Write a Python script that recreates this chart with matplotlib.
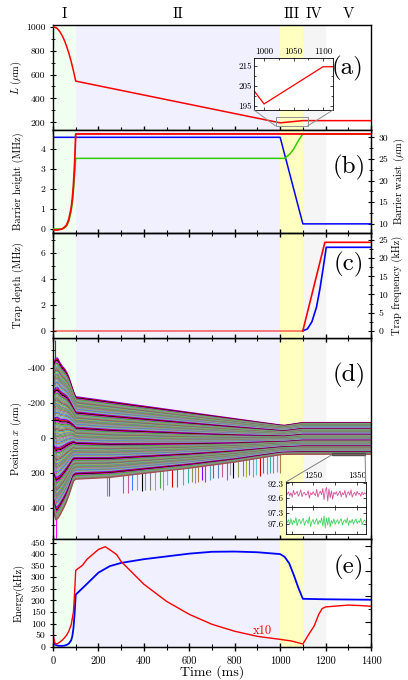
import matplotlib
matplotlib.use('Agg')
import matplotlib.pyplot as plt
import numpy as np
from matplotlib.patches import Rectangle, ConnectionPatch
from matplotlib.ticker import MultipleLocator

plt.rcParams['font.family'] = ['cmr10', 'DejaVu Serif']
plt.rcParams['mathtext.fontset'] = 'cm'
plt.rcParams['axes.unicode_minus'] = False
plt.rcParams['axes.formatter.use_mathtext'] = False

# ---- phases ----
phase_edges = [0, 100, 1000, 1100, 1200, 1400]
phase_names = ['I', 'II', 'III', 'IV', 'V']
phase_mid = [50, 550, 1050, 1150, 1300]
phase_colors = ['#f0fff0', '#f0f0ff', '#ffffc0', '#f5f5f5', '#ffffff']

# ---- (a) length ----
a_t = [0, 10, 20, 30, 40, 50, 60, 70, 80, 90, 100, 1000, 1100, 1400]
a_L = [1000, 995, 982, 959, 927, 886, 836, 777, 709, 631, 545, 196, 214.5, 214.5]

# ---- (b) barrier ----
b_red_t = [0, 20, 40, 50, 60, 70, 80, 85, 90, 95, 100, 1400]
b_red = [-0.05, -0.05, 0.0, 0.08, 0.2, 0.5, 1.05, 1.5, 2.2, 3.2, 4.75, 4.75]
b_green_t = [0, 40, 50, 60, 70, 80, 85, 90, 95, 100, 1020, 1043, 1060, 1072, 1085, 1100, 1400]
b_green = [0, 0, 0.05, 0.15, 0.4, 0.9, 1.3, 1.9, 2.7, 3.53, 3.53, 3.75, 4.0, 4.25, 4.5, 4.75, 4.75]
b_waist_t = [0, 1000, 1100, 1400]
b_waist = [30, 30, 10, 10]

# ---- (c) trap ----
c_depth_t = [0, 1100, 1197, 1400]
c_depth = [0, 0, 6.85, 6.85]
c_freq_t = [1100, 1120, 1140, 1160, 1175, 1190, 1203, 1400]
c_freq = [0, 0.5, 2.5, 6.5, 11.5, 17.5, 23.0, 23.0]

# ---- (d) ion positions: band edges at key times ----
d_t = [0, 5, 12, 20, 30, 40, 50, 60, 70, 80, 90, 100, 250, 400, 600, 800, 1000, 1020, 1100, 1400]
d_top = [-420, -430, -455, -455, -430, -410, -395, -375, -345, -305, -265, -234,
         -207, -180, -144, -108, -72, -70, -86, -86]
d_bot = [400, 430, 470, 465, 445, 420, 395, 365, 330, 290, 250, 238,
         228, 205, 175, 140, 98, 96, 95, 95]
n_ions = 120
ion_colors = ['#7f00ff', '#d00000', '#000000', '#ff00ff', '#2ca02c', '#8fa05a',
              '#5fa0c0', '#9a9a50', '#808080', '#a05050', '#40b0a0', '#b0b040',
              '#6080c0', '#909060', '#50a050', '#c06090', '#70a8a0', '#a0a070',
              '#4080ff', '#b08040', '#60c0d0', '#a0a0a0']
spike_t = [10, 13, 236, 245, 310, 332, 346, 368, 390, 405, 427, 449, 471, 486, 500,
           523, 544, 573, 595, 610, 625, 640, 654, 669, 691, 705, 728, 742, 764,
           779, 794, 816, 835, 850, 865, 880, 895, 910, 925, 940, 955, 970, 985, 998]
spike_tip = [-558, 573, 337, 337, 318, 318, 299, 299, 308, 299, 299, 299, 290, 299, 270,
             280, 280, 270, 261, 252, 261, 252, 242, 252, 242, 232, 232, 223, 242,
             213, 232, 223, 220, 228, 215, 225, 212, 220, 205, 210, 200, 205, 195, 200]

# zoom insets of two ions (1190-1370 ms)
ins_t = np.linspace(1190, 1370, 65)
ion_pink = [92.52, 92.47, 92.55, 92.49, 92.58, 92.44, 92.53, 92.50, 92.46, 92.56, 92.51,
            92.43, 92.57, 92.50, 92.48, 92.54, 92.52, 92.45, 92.60, 92.49, 92.53, 92.47,
            92.51, 92.55, 92.42, 92.58, 92.50, 92.46, 92.53, 92.40, 92.63, 92.44, 92.38,
            92.66, 92.41, 92.59, 92.45, 92.62, 92.48, 92.52, 92.47, 92.55, 92.50, 92.45,
            92.57, 92.49, 92.53, 92.44, 92.59, 92.50, 92.47, 92.54, 92.43, 92.58, 92.51,
            92.48, 92.55, 92.46, 92.52, 92.50, 92.56, 92.47, 92.53, 92.49, 92.51]
ion_green = [97.55, 97.48, 97.60, 97.45, 97.62, 97.50, 97.57, 97.42, 97.64, 97.52, 97.47,
             97.59, 97.51, 97.44, 97.63, 97.53, 97.49, 97.58, 97.40, 97.66, 97.54, 97.47,
             97.60, 97.52, 97.45, 97.61, 97.50, 97.56, 97.43, 97.65, 97.38, 97.70, 97.44,
             97.62, 97.41, 97.67, 97.50, 97.58, 97.46, 97.60, 97.53, 97.48, 97.59, 97.51,
             97.45, 97.62, 97.52, 97.48, 97.57, 97.43, 97.63, 97.50, 97.56, 97.47, 97.60,
             97.52, 97.46, 97.58, 97.51, 97.55, 97.44, 97.61, 97.53, 97.49, 97.55]

# ---- (e) energy ----
e_blue_t = [0, 10, 20, 30, 40, 50, 60, 70, 80, 85, 90, 95, 100, 150, 200, 250, 300, 400,
            500, 600, 700, 800, 900, 1000, 1020, 1040, 1060, 1080, 1100, 1200, 1400]
e_blue = [20, 9, 5, 4, 4, 5, 8, 14, 28, 45, 80, 140, 225, 272, 320, 348, 362, 378,
          390, 402, 410, 411, 408, 400, 388, 360, 310, 255, 207, 205, 203]
e_red_t = [0, 5, 10, 20, 30, 40, 50, 60, 70, 80, 90, 95, 100, 130, 150, 200, 230, 260,
           280, 300, 400, 500, 600, 700, 800, 900, 1000, 1050, 1100, 1130, 1150, 1170,
           1185, 1200, 1250, 1300, 1350, 1400]
e_red = [55, 30, 12, 14, 20, 28, 38, 50, 68, 95, 150, 230, 330, 352, 378, 420, 432, 412,
         398, 368, 270, 196, 140, 97, 67, 45, 32, 25, 12, 60, 90, 140, 165, 172, 176,
         180, 178, 175]


def shade(ax):
    for i in range(len(phase_names)):
        ax.axvspan(phase_edges[i], phase_edges[i + 1], color=phase_colors[i], lw=0, zorder=0)


def style(ax, last=False):
    ax.set_xlim(0, 1400)
    ax.xaxis.set_major_locator(MultipleLocator(200))
    ax.xaxis.set_minor_locator(MultipleLocator(100))
    ax.tick_params(axis='x', which='major', direction='inout', length=6, width=1,
                   top=False, labelbottom=last, labelsize=7.5)
    ax.tick_params(axis='x', which='minor', direction='inout', length=4, width=0.8, top=False)
    ax.tick_params(axis='y', which='major', direction='inout', length=4, width=0.8,
                   labelsize=7, right=False)
    ax.tick_params(axis='y', which='minor', direction='inout', length=2.5, width=0.6, right=False)
    for s in ax.spines.values():
        s.set_linewidth(1.0)
    ax.yaxis.set_label_coords(-0.09, 0.5)


def right_axis(ax):
    # twin axis carries the background so that both sets of lines show
    ax2 = ax.twinx()
    ax2.set_zorder(0)
    ax.set_zorder(1)
    ax.patch.set_visible(False)
    ax2.patch.set_visible(True)
    shade(ax2)
    ax2.set_xlim(0, 1400)
    ax2.tick_params(axis='y', which='major', direction='inout', length=4, width=0.8, labelsize=7)
    ax2.tick_params(axis='y', which='minor', direction='inout', length=2.5, width=0.6)
    ax2.yaxis.set_label_coords(1.066, 0.5)
    return ax2


fig = plt.figure(figsize=(4.08, 6.8), dpi=100)
L, W = 0.1299, 0.7794
ax_a = fig.add_axes([L, 0.8088, W, 0.1544])
ax_b = fig.add_axes([L, 0.6574, W, 0.1515])
ax_c = fig.add_axes([L, 0.5029, W, 0.1544])
ax_d = fig.add_axes([L, 0.2074, W, 0.2956])
ax_e = fig.add_axes([L, 0.0485, W, 0.1588])

for ax in [ax_a, ax_b, ax_c, ax_d, ax_e]:
    style(ax, ax is ax_e)
for ax in [ax_a, ax_d, ax_e]:
    shade(ax)

for i, name in enumerate(phase_names):
    ax_a.text(phase_mid[i], 1.105, name, transform=ax_a.get_xaxis_transform(),
              ha='center', va='center', fontsize=11)

# (a)
ax_a.plot(a_t, a_L, color='red', lw=1.1, zorder=3)
ax_a.set_ylim(136, 1014)
ax_a.yaxis.set_major_locator(MultipleLocator(200))
ax_a.yaxis.set_minor_locator(MultipleLocator(100))
ax_a.set_ylabel(r'$L$ ($\mu$m)', fontsize=7.5)
ax_a.text(0.925, 0.59, '(a)', transform=ax_a.transAxes, fontsize=18, ha='center', va='center')
ax_a.add_patch(Rectangle((980, 170), 141, 77, fill=False, ec='#909090', lw=0.7, zorder=4))

ins_a = fig.add_axes([254 / 408, 1 - 110 / 680, 79 / 408, 52.3 / 680])
ins_a.plot(a_t, a_L, color='red', lw=0.9)
ins_a.set_xlim(983, 1117)
ins_a.set_ylim(193, 219)
ins_a.set_xticks([1000, 1050, 1100])
ins_a.set_yticks([195, 205, 215])
ins_a.xaxis.set_minor_locator(MultipleLocator(25))
ins_a.yaxis.set_minor_locator(MultipleLocator(5))
ins_a.tick_params(which='both', direction='in', top=True, bottom=True, left=True, right=True,
                  labeltop=True, labelbottom=False, labelsize=6.5, length=2.5, width=0.5, pad=1.5)
ins_a.tick_params(which='minor', length=1.5)
for s in ins_a.spines.values():
    s.set_linewidth(0.6)
for xa, xb in [((0, 0), (980, 170)), ((1, 0), (1121, 170))]:
    fig.add_artist(ConnectionPatch(xyA=xa, coordsA=ins_a.transAxes, xyB=xb,
                                   coordsB=ax_a.transData, color='#909090', lw=0.7))

# (b)
ax_b2 = right_axis(ax_b)
ax_b2.plot(b_waist_t, b_waist, color='blue', lw=1.1)
ax_b.plot(b_green_t, b_green, color='#33cc00', lw=1.1, zorder=3)
ax_b.plot(b_red_t, b_red, color='red', lw=1.3, zorder=4)
ax_b.set_ylim(-0.2, 4.95)
ax_b2.set_ylim(7.9, 31.7)
ax_b.yaxis.set_major_locator(MultipleLocator(1))
ax_b2.yaxis.set_major_locator(MultipleLocator(5))
ax_b2.yaxis.set_minor_locator(MultipleLocator(2.5))
ax_b.set_ylabel('Barrier height (MHz)', fontsize=7.5)
ax_b2.set_ylabel(r'Barrier waist ($\mu$m)', fontsize=7.5)
ax_b.text(0.93, 0.64, '(b)', transform=ax_b.transAxes, fontsize=18, ha='center', va='center')

# (c)
ax_c2 = right_axis(ax_c)
ax_c2.plot(c_freq_t, c_freq, color='blue', lw=1.2)
ax_c.plot(c_depth_t[:2], c_depth[:2], color='red', lw=1.4, alpha=0.5)
ax_c.plot(c_depth_t[1:], c_depth[1:], color='red', lw=1.2)
ax_c.set_ylim(-0.57, 7.57)
ax_c2.set_ylim(-2.0, 26.93)
ax_c.yaxis.set_major_locator(MultipleLocator(2))
ax_c.yaxis.set_minor_locator(MultipleLocator(1))
ax_c2.yaxis.set_major_locator(MultipleLocator(5))
ax_c2.yaxis.set_minor_locator(MultipleLocator(2.5))
ax_c.set_ylabel('Trap depth (MHz)', fontsize=7.5)
ax_c2.set_ylabel('Trap frequency (kHz)', fontsize=7.5)
ax_c.text(0.93, 0.70, '(c)', transform=ax_c.transAxes, fontsize=18, ha='center', va='center')

# (d)
top = np.array(d_top, dtype=float)
bot = np.array(d_bot, dtype=float)
ax_d.vlines(spike_t, 0, spike_tip,
            colors=[ion_colors[(3 * k) % len(ion_colors)] for k in range(len(spike_t))],
            lw=0.8, zorder=1)
for i in range(n_ions):
    u = i / (n_ions - 1)
    ax_d.plot(d_t, top + u * (bot - top), color=ion_colors[i % len(ion_colors)],
              lw=0.9, zorder=2)
ax_d.set_ylim(580, -570)
ax_d.yaxis.set_major_locator(MultipleLocator(200))
ax_d.yaxis.set_minor_locator(MultipleLocator(100))
ax_d.set_ylabel(r'Position $x$ ($\mu$m)', fontsize=7.5)
ax_d.text(0.93, 0.815, '(d)', transform=ax_d.transAxes, fontsize=18, ha='center', va='center')
ax_d.add_patch(Rectangle((1227, 89), 147, 10, fill=False, ec='#505050', lw=1.0, zorder=5))

ax_p = fig.add_axes([286 / 408, 1 - 507.5 / 680, 79.7 / 408, 25.5 / 680])
ax_g = fig.add_axes([286 / 408, 1 - 534.3 / 680, 79.7 / 408, 26.8 / 680])
ax_p.plot(ins_t, ion_pink, color='#cc3388', lw=0.6, alpha=0.85)
ax_g.plot(ins_t, ion_green, color='#22cc44', lw=0.6, alpha=0.85)
ax_p.set_ylim(92.79, 92.27)
ax_g.set_ylim(97.865, 97.157)
ax_p.set_yticks([92.3, 92.6])
ax_g.set_yticks([97.3, 97.6])
for ax in [ax_p, ax_g]:
    ax.set_xlim(1187, 1370)
    ax.set_xticks([1250, 1350])
    ax.xaxis.set_minor_locator(MultipleLocator(50))
    ax.tick_params(which='both', direction='in', top=True, bottom=True, left=True, right=True,
                   labelbottom=False, labelsize=6.5, length=2, width=0.5, pad=1.5)
    for s in ax.spines.values():
        s.set_linewidth(0.6)
ax_p.tick_params(labeltop=True)
ax_g.tick_params(labeltop=False)
for xa, xb in [((0, 1), (1227, 99)), ((1, 1), (1374, 99))]:
    fig.add_artist(ConnectionPatch(xyA=xa, coordsA=ax_p.transAxes, xyB=xb,
                                   coordsB=ax_d.transData, color='#808080', lw=0.7))

# (e)
ax_e.plot(e_blue_t, e_blue, color='blue', lw=1.3, zorder=3)
ax_e.plot(e_red_t, e_red, color='red', lw=1.0, zorder=3)
ax_e.set_ylim(-1, 465)
ax_e.yaxis.set_major_locator(MultipleLocator(50))
ax_e.set_ylabel('Energy(kHz)', fontsize=7.5)
ax_e.set_xlabel('Time (ms)', fontsize=10)
ax_e.xaxis.set_label_coords(0.5, -0.165)
ax_e.text(923, 68, 'x10', color='red', fontsize=9, ha='center', va='center')
ax_e.text(0.93, 0.74, '(e)', transform=ax_e.transAxes, fontsize=18, ha='center', va='center')
ax_e2 = ax_e.twinx()
ax_e2.set_ylim(0, 4.26)
ax_e2.yaxis.set_major_locator(MultipleLocator(1))
ax_e2.yaxis.set_minor_locator(MultipleLocator(0.5))
ax_e2.tick_params(axis='y', which='major', direction='in', length=4, width=0.8, labelright=False)
ax_e2.tick_params(axis='y', which='minor', direction='in', length=2, width=0.6)

fig.savefig('out.png', dpi=100)
